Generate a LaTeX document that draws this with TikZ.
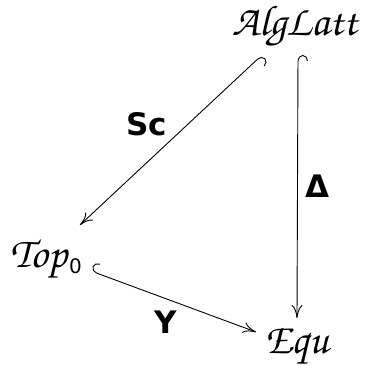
\documentclass[tikz,border=0pt]{standalone}
\usepackage[T1]{fontenc}
\usepackage{fontspec}
\usepackage{tikz}
\usetikzlibrary{arrows.meta,positioning,calc}
\newfontfamily\lblfont{DejaVu Sans}
\newcommand\chan[1]{{\fontencoding{T1}\fontfamily{pzc}\fontseries{m}\fontshape{it}\selectfont #1}}
\begin{document}
\begin{tikzpicture}[x=1pt,y=-1pt,
  obj/.style={anchor=base,font=\fontsize{43}{46}\selectfont},
  lbl/.style={font=\fontsize{31}{34}\selectfont\lblfont\bfseries},
  inj/.style={line width=0.9pt,{Hooks[right,length=6pt,width=20pt]}-{Computer Modern Rightarrow[length=13pt,width=11pt]}}]
\useasboundingbox (0,0) rectangle (367,365);
% objects
\node[obj] (alg) at (295,35) {\chan{AlgLatt}};
\node[obj] (top) at (46,267) {\chan{Top}\kern2pt\raisebox{-6pt}{\fontsize{20}{20}\selectfont\lblfont 0}};
\node[obj] (equ) at (297,353) {\chan{Equ}};
% embeddings
\draw[inj] ([xshift=-33pt,yshift=-20pt]alg.base) -- node[lbl,midway,anchor=south east]{Sc} ([xshift=34pt,yshift=42pt]top.base);
\draw[inj] ([xshift=3pt,yshift=-20pt]alg.base) -- node[lbl,midway,right=4pt]{Δ} ([yshift=35pt]equ.base);
\draw[inj] ([xshift=45pt,yshift=-4pt]top.base) -- node[lbl,midway,below=6pt,xshift=-8pt]{Y} ([xshift=-41pt,yshift=21pt]equ.base);
\end{tikzpicture}
\end{document}
